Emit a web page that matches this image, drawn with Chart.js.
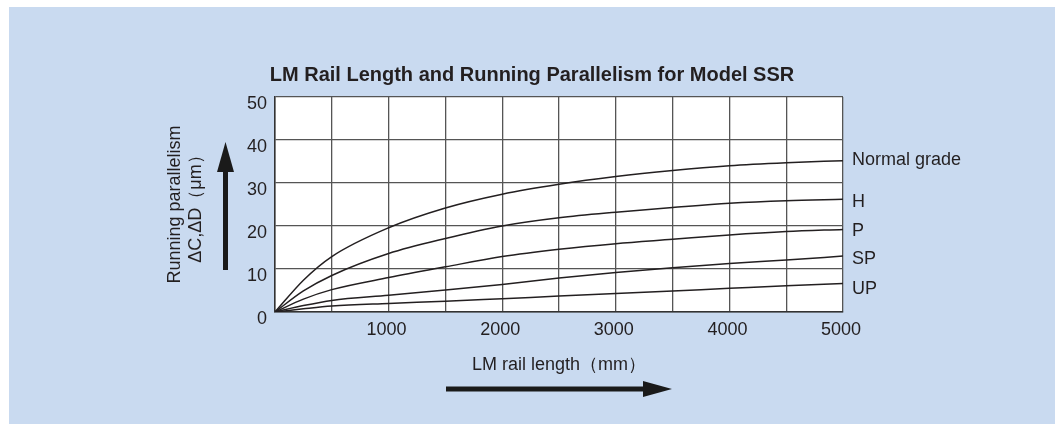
<!DOCTYPE html>
<html lang="en">
<head>
    <meta charset="UTF-8">
    <title>LM Rail Length and Running Parallelism for Model SSR</title>
    <script src="https://cdn.jsdelivr.net/npm/chart.js"></script>
    <style>
        body { margin: 0; background: #fff; }
        canvas { display: block; }
    </style>
</head>
<body>

<canvas id="parallelChart" width="1055" height="424"></canvas>

<script type="text/javascript">
    // LM rail length (mm) and running parallelism (um) per accuracy grade
    const railLength  = [0, 250, 500, 1000, 1500, 2000, 2500, 3000, 3500, 4000, 4500, 5000];
    const normalGrade = [0, 7.4, 12.9, 19.6, 24.2, 27.4, 29.7, 31.5, 32.9, 34.0, 34.7, 35.2];
    const gradeH      = [0, 4.9, 8.5, 13.6, 17.1, 20.0, 21.9, 23.2, 24.3, 25.3, 25.9, 26.2];
    const gradeP      = [0, 3.0, 5.2, 8.0, 10.5, 12.9, 14.6, 15.9, 16.9, 17.9, 18.7, 19.2];
    const gradeSP     = [0, 1.5, 2.7, 3.9, 5.1, 6.4, 7.9, 9.2, 10.3, 11.3, 12.1, 13.0];
    const gradeUP     = [0, 0.75, 1.4, 2.0, 2.5, 3.1, 3.7, 4.3, 4.9, 5.5, 6.1, 6.6];
    const gradeNames  = ['Normal grade', 'H', 'P', 'SP', 'UP'];
    const xTickLabels = [1000, 2000, 3000, 4000, 5000];

    const textColor = '#231f20';
    const fontFamily = '"Liberation Sans", Arial, Helvetica, sans-serif';

    function toPoints(values) {
        return railLength.map((x, i) => ({ x: x, y: values[i] }));
    }

    // blue panel + white plot area
    const backgroundPlugin = {
        id: 'panelBackground',
        beforeDraw(chart) {
            const { ctx, chartArea } = chart;
            ctx.save();
            ctx.fillStyle = '#ffffff';
            ctx.fillRect(0, 0, chart.width, chart.height);
            ctx.fillStyle = '#c9daf0';
            ctx.fillRect(9, 7, chart.width - 9, chart.height - 7);
            ctx.fillStyle = '#ffffff';
            ctx.fillRect(chartArea.left, chartArea.top, chartArea.right - chartArea.left, chartArea.bottom - chartArea.top);
            ctx.restore();
        }
    };

    // grade names at the end of each curve, plus the two axis arrows
    const decorPlugin = {
        id: 'decor',
        afterDraw(chart, args, opts) {
            const { ctx, chartArea, scales } = chart;
            ctx.save();
            ctx.fillStyle = textColor;
            ctx.font = '18px ' + fontFamily;
            ctx.textAlign = 'left';
            ctx.textBaseline = 'middle';
            chart.data.datasets.forEach((ds, i) => {
                const last = ds.data[ds.data.length - 1];
                const y = scales.y.getPixelForValue(last.y) + opts.nudge[i];
                ctx.fillText(ds.label, chartArea.right + 9, y);
            });

            // vertical arrow
            ctx.fillStyle = '#1a1a1a';
            ctx.fillRect(223, 170, 5, 100);
            ctx.beginPath();
            ctx.moveTo(225.5, 142);
            ctx.lineTo(234, 172);
            ctx.lineTo(217, 172);
            ctx.closePath();
            ctx.fill();

            // horizontal arrow
            ctx.fillRect(446, 386.5, 200, 5);
            ctx.beginPath();
            ctx.moveTo(672, 389);
            ctx.lineTo(643, 381);
            ctx.lineTo(643, 397);
            ctx.closePath();
            ctx.fill();
            ctx.restore();
        }
    };

    const lineStyle = {
        borderColor: '#231f20',
        borderWidth: 1.5,
        pointRadius: 0,
        fill: false,
        cubicInterpolationMode: 'monotone'
    };

    const gridColor = '#555555';

    const ctx = document.getElementById('parallelChart').getContext('2d');
    const chart = new Chart(ctx, {
        type: 'line',
        data: {
            datasets: [normalGrade, gradeH, gradeP, gradeSP, gradeUP].map((values, i) => ({
                label: gradeNames[i],
                data: toPoints(values),
                ...lineStyle
            }))
        },
        options: {
            responsive: false,
            animation: false,
            events: [],
            layout: {
                padding: { left: 9, top: 7, right: 0, bottom: 0 }
            },
            scales: {
                x: {
                    type: 'linear',
                    min: 0,
                    max: 5000,
                    afterFit(scale) { scale.height = 112; },
                    grid: { color: gridColor, lineWidth: 1.3, drawTicks: false },
                    border: { color: '#333333', width: 1.5 },
                    ticks: {
                        stepSize: 500,
                        padding: 7,
                        labelOffset: -2,
                        color: textColor,
                        font: { family: fontFamily, size: 18 },
                        maxRotation: 0,
                        autoSkip: false,
                        callback: (v) => xTickLabels.includes(v) ? String(v) : ''
                    },
                    title: {
                        display: true,
                        text: 'LM rail length（mm）',
                        color: textColor,
                        font: { family: fontFamily, size: 18 },
                        padding: { top: 0, bottom: 48 }
                    }
                },
                y: {
                    type: 'linear',
                    min: 0,
                    max: 50,
                    afterFit(scale) { scale.width = 266; },
                    grid: { color: gridColor, lineWidth: 1.3, drawTicks: false },
                    border: { color: '#333333', width: 1.5 },
                    ticks: {
                        stepSize: 10,
                        padding: 8,
                        labelOffset: 7,
                        color: textColor,
                        font: { family: fontFamily, size: 18 }
                    },
                    title: {
                        display: true,
                        text: ['Running parallelism', 'ΔC,ΔD（μm）'],
                        color: textColor,
                        font: { family: fontFamily, size: 18 },
                        padding: { top: 155, bottom: 0 }
                    }
                },
                // empty right-hand axis keeps room for the grade names
                side: {
                    type: 'linear',
                    position: 'right',
                    afterFit(scale) { scale.width = 212; },
                    grid: { display: false },
                    border: { display: false },
                    ticks: { display: false }
                }
            },
            plugins: {
                legend: { display: false },
                tooltip: { enabled: false },
                title: {
                    display: true,
                    text: 'LM Rail Length and Running Parallelism for Model SSR',
                    color: textColor,
                    font: { family: fontFamily, size: 20, weight: 'bold' },
                    padding: { top: 56, bottom: 10 }
                },
                decor: { nudge: [-1, 3, 2, 3, 5] }
            }
        },
        plugins: [backgroundPlugin, decorPlugin]
    });
</script>

</body>
</html>
